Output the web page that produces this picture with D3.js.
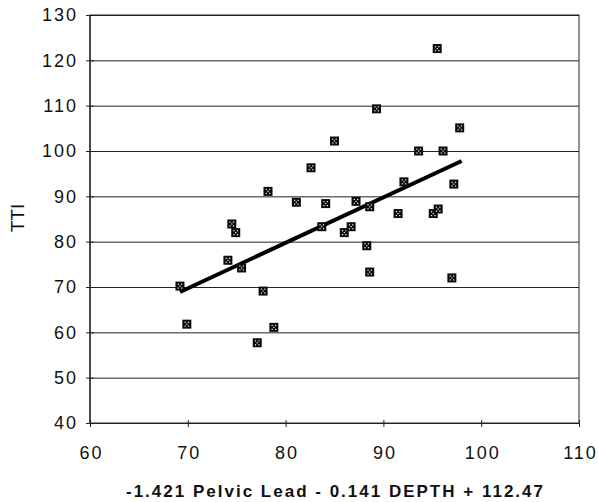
<!DOCTYPE html>
<html>
<head>
<meta charset="utf-8">
<script src="https://cdn.jsdelivr.net/npm/d3@7"></script>
<style>
  body { margin: 0; background: #fff; }
  svg { font-family: "Liberation Sans", Arial, sans-serif; }
  .tick-label { font-size: 18px; letter-spacing: 2px; fill: #111; }
</style>
</head>
<body>
<svg width="598" height="502"></svg>
<script>
// scatter data
var xValues = [69.2, 69.9, 74.1, 74.5, 74.9, 75.5, 77.7, 77.1, 78.8, 78.2, 81.1, 82.6, 83.7, 84.1, 85.0, 86.0,
               86.7, 87.2, 88.3, 88.6, 88.6, 89.3, 91.5, 92.1, 93.6, 95.1, 95.6, 95.5, 96.1, 97.0, 97.2, 97.8];
var yValues = [70.2, 61.8, 75.9, 83.9, 82.0, 74.2, 69.1, 57.7, 61.1, 91.1, 88.7, 96.3, 83.3, 88.4, 102.2, 82.0,
               83.3, 88.9, 79.1, 73.3, 87.7, 109.3, 86.2, 93.2, 100.0, 86.2, 87.2, 122.6, 100.0, 72.0, 92.7, 105.1];

// fitted trend line end points
var trendX = [69.2, 98.0];
var trendY = [68.9, 97.8];

var xTicks = [60, 70, 80, 90, 100, 110];
var yTicks = [40, 50, 60, 70, 80, 90, 100, 110, 120, 130];

var xTitle = '-1.421 Pelvic Lead - 0.141 DEPTH + 112.47';
var yTitle = 'TTI';

var svg = d3.select('svg');
var margin = {t: 15, r: 19, b: 79, l: 90};
var width = 598 - margin.l - margin.r;
var height = 502 - margin.t - margin.b;

var xScale = d3.scaleLinear().domain([60, 110]).range([0, width]);
var yScale = d3.scaleLinear().domain([40, 130]).range([height, 0]);

var g = svg.append('g')
    .attr('transform', 'translate(' + [margin.l, margin.t] + ')');

// horizontal grid
g.append('g')
    .attr('class', 'y grid')
    .call(d3.axisLeft(yScale).tickValues(yTicks).tickSize(-width).tickFormat(''))
    .call(function(s) { s.select('.domain').remove(); })
    .selectAll('.tick line')
    .attr('stroke', '#222')
    .attr('stroke-width', 1);

// frame
g.append('rect')
    .attr('width', width)
    .attr('height', height)
    .attr('fill', 'none')
    .attr('stroke', '#222')
    .attr('stroke-width', 1);

g.append('line')
    .attr('x1', 0).attr('x2', 0)
    .attr('y1', 0).attr('y2', height)
    .attr('stroke', '#333')
    .attr('stroke-width', 1.5);

// y axis
var yAxis = g.append('g')
    .call(d3.axisLeft(yScale).tickValues(yTicks).tickSize(4).tickPadding(8));
yAxis.select('.domain').remove();
yAxis.selectAll('.tick line').attr('x2', 4).attr('x1', -4).attr('stroke', '#222');
yAxis.selectAll('.tick text').attr('class', 'tick-label')
    .attr('font-family', null);

// x axis
var xAxis = g.append('g')
    .attr('transform', 'translate(0,' + height + ')')
    .call(d3.axisBottom(xScale).tickValues(xTicks).tickSize(4).tickPadding(19));
xAxis.select('.domain').remove();
xAxis.selectAll('.tick line').attr('y1', -3).attr('y2', 4).attr('stroke', '#222');
xAxis.selectAll('.tick text').attr('class', 'tick-label')
    .attr('font-family', null)
    .attr('dx', 1);

// trend line
var line = d3.line()
    .x(function(d) { return xScale(d[0]); })
    .y(function(d) { return yScale(d[1]); });

g.append('path')
    .datum(d3.zip(trendX, trendY))
    .attr('d', line)
    .attr('fill', 'none')
    .attr('stroke', '#000')
    .attr('stroke-width', 4);

// markers: black squares with white dots
var points = d3.zip(xValues, yValues);
var marks = g.selectAll('.mark')
    .data(points)
    .enter()
    .append('g')
    .attr('class', 'mark')
    .attr('transform', function(d) {
        return 'translate(' + [xScale(d[0]), yScale(d[1])] + ')';
    });

marks.append('rect')
    .attr('x', -4.5).attr('y', -4.5)
    .attr('width', 9).attr('height', 9)
    .attr('fill', '#0a0a0a');

var dots = [[-2.3, -2.5], [1.1, -2.5], [-0.6, -0.6], [-2.3, 1.4], [1.1, 1.4]];
marks.selectAll('.dot')
    .data(dots)
    .enter()
    .append('rect')
    .attr('class', 'dot')
    .attr('x', function(d) { return d[0]; })
    .attr('y', function(d) { return d[1]; })
    .attr('width', 1.2).attr('height', 1.2)
    .attr('fill', '#fff');

// axis titles
svg.append('text')
    .attr('x', 126)
    .attr('y', 497)
    .attr('textLength', 417)
    .attr('lengthAdjust', 'spacing')
    .style('font-size', '17px')
    .style('font-weight', 'bold')
    .attr('fill', '#111')
    .text(xTitle);

svg.append('text')
    .attr('transform', 'translate(' + [24, 218] + ') rotate(-90)')
    .attr('text-anchor', 'middle')
    .style('font-size', '19px')
    .attr('fill', '#111')
    .text(yTitle);
</script>
</body>
</html>
